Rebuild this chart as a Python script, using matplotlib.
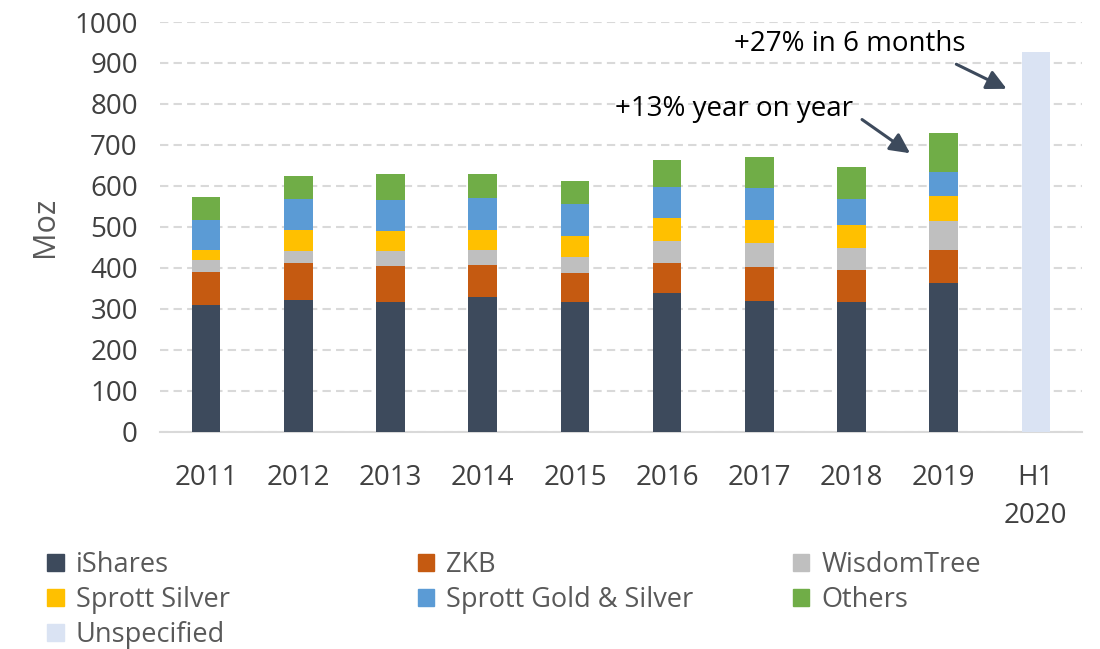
import matplotlib.pyplot as plt
import numpy as np
from matplotlib.patches import Patch

# data
years = ['2011', '2012', '2013', '2014', '2015', '2016', '2017', '2018', '2019', 'H1\n2020']
ishares = [309, 323, 318, 330, 318, 340, 320, 316, 363, 0]
zkb = [80, 90, 87, 77, 69, 72, 82, 80, 82, 0]
wisdomtree = [31, 29, 36, 38, 41, 54, 59, 52, 70, 0]
sprott_silver = [23, 50, 48, 48, 50, 57, 56, 56, 60, 0]
sprott_gs = [75, 77, 78, 78, 77, 75, 77, 65, 58, 0]
others = [54, 56, 63, 59, 58, 66, 77, 77, 96, 0]
unspecified = [0, 0, 0, 0, 0, 0, 0, 0, 0, 927]

series = [
    ('iShares', ishares, '#3D4A5C'),
    ('ZKB', zkb, '#C55A11'),
    ('WisdomTree', wisdomtree, '#BFBFBF'),
    ('Sprott Silver', sprott_silver, '#FFC000'),
    ('Sprott Gold & Silver', sprott_gs, '#5B9BD5'),
    ('Others', others, '#70AD47'),
    ('Unspecified', unspecified, '#DAE3F3'),
]

plt.rcParams['font.family'] = ['Open Sans', 'DejaVu Sans']

fig = plt.figure(figsize=(11, 6.49), dpi=100)
ax = fig.add_axes([0.1455, 0.3344, 0.8381, 0.6317])

x = np.arange(len(years))
bottom = np.zeros(len(years))
handles = {}
for name, vals, col in series:
    vals = np.array(vals, dtype=float)
    ax.bar(x, vals, 0.31, bottom=bottom, color=col, zorder=3)
    bottom += vals
    handles[name] = Patch(color=col, label=name)

ax.set_xlim(-0.5, 9.5)
ax.set_ylim(0, 1000)
ax.set_yticks(np.arange(0, 1001, 100))
ax.set_xticks(x)
ax.set_xticklabels(years, linespacing=1.5)
ax.tick_params(length=0, labelsize=20, labelcolor='#404040')
ax.tick_params(axis='x', pad=23)
ax.tick_params(axis='y', pad=16)
ax.set_ylabel('Moz', fontsize=22, color='#595959', labelpad=10)

ax.yaxis.grid(True, color='#D9D9D9', linestyle=(0, (4, 2.5)), linewidth=1.5, zorder=0)
for s in ['top', 'right', 'left']:
    ax.spines[s].set_visible(False)
ax.spines['bottom'].set_color('#D9D9D9')
ax.spines['bottom'].set_linewidth(1.5)

# annotations
arrow = dict(arrowstyle='-|>', color='#3D4A5C', lw=2.2, mutation_scale=30)
ax.text(4.43, 787, '+13% year on year', fontsize=20, color='black', va='center', ha='left')
ax.annotate('', xy=(7.66, 676), xytext=(7.09, 766), arrowprops=arrow)
ax.text(5.73, 946, '+27% in 6 months', fontsize=20, color='black', va='center', ha='left')
ax.annotate('', xy=(8.71, 834), xytext=(8.11, 900), arrowprops=arrow)

# legend in three columns
cols = [['iShares', 'Sprott Silver', 'Unspecified'],
        ['ZKB', 'Sprott Gold & Silver'],
        ['WisdomTree', 'Others']]
xs = [0.043, 0.38, 0.721]
for cx, names in zip(xs, cols):
    fig.legend(handles=[handles[n] for n in names], loc='upper left',
               bbox_to_anchor=(cx, 0.151), frameon=False, fontsize=19.5,
               labelcolor='#595959', handlelength=0.6, handleheight=0.6,
               handletextpad=0.45, labelspacing=0.26, borderpad=0, borderaxespad=0)

fig.savefig('out.png', dpi=100)
